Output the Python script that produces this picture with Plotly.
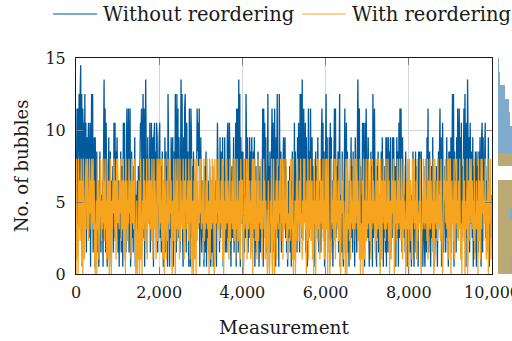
import plotly.graph_objects as go

BLUE_NAME = "Without reordering"
ORANGE_NAME = "With reordering"
BLUE_COLOR = "#005a9c"
ORANGE_COLOR = "#f6a31e"

# spacing of the plotted samples along the measurement axis
STEP = 12.5

# each code character stands for one bubble-count level
BLUE_LEVELS = [0.5, 1.5, 2.5, 3.5, 4.5, 5.5, 6.5, 7.5, 8.5, 9.5,
               10.5, 11.5, 12.5, 13.5, 14.5]          # codes 0-9, a-e
ORANGE_LEVELS = [0, 1, 2.3, 3.1, 3.5, 4.2, 5.1, 6.5, 8]  # codes 0-8

# one row per 1,000 measurements, 80 samples per row
BLUE_CODES = [
    "27b1b8c3ce 4c0b9a2c5a 1938a29a06 c4c1790953 8162038415 2608d3b1a5 0739148206 471a2a5839",
    "3160528174 0a4a2619b3 5b17b03826 1739052461 7248a9b36c 2b07d85194 63a19a7290 9a382a9159",
    "9a27158306 4918270c53 0629179048 3c71c6b294 16d4c2093b c71a3820b6 0b92748163 529b8a7b04",
    "9316250471 8052613740 2617043526 04a7361928 5390729164 19a26a8305 7249152a0b 6b1d4c0938",
    "3805162c74 9162938491 3829057142 860371524b 0b5a29164c 2708159b3a 18b4096c27 0c53812499",
    "8492713056 2716048351 a3825193a6 1c7c2d39b4 7a19305b28 4b63917052 0837295146 319b4a2806",
    "4c3917290a 1926039b5b 2736819c04 5182036b19 a381406259 2718540963 18d94b2715 3a8a50a4b9",
    "5293061847 0c29b61307 2815407839 4062719092 1938491629 3961705928 0a2b4b6193 7251836041",
    "3716205482 0538172608 4862813057 2046193b15 8305729140 1627304859 b2905a6173 4159260838",
    "2917c3c085 6193b28b49 1a2739b4c6 0a2d8491a5 3829057184 0837182940 9a19358a26 1739406253",
]

ORANGE_CODES = [
    "0814083726 8370861548 7386248573 8468371026 0837165842 6384728361 8317048206 3758627184",
    "8463758247 3816708372 6485731864 7384201603 1702815063 8274638157 4863728416 8375148268",
    "7384628175 0863172846 3857106284 6083728351 8274638417 5836472831 7480260718 4082736485",
    "8364718253 7483620817 6384720816 4857382647 3818062735 8476138264 7385248163 8462731847",
    "7402836481 5837461728 0863827315 8274638416 3857164103 7202648103 8406371846 3758264817",
    "8364827153 4728361804 1603728462 7483516284 8360728147 3825716084 6073828361 8547382618",
    "7384083602 1846372851 8463728160 3857164208 7086352817 4638273846 8372618042 1708316482",
    "6384728163 8475361824 7386208517 4863728364 8270631857 3801746283 7483628415 8364027381",
    "0837261847 8364718253 6481026384 7384628173 5837462801 8463728463 7285103867 4863728148",
    "8037462815 7483627384 1406382703 6380172846 8473628153 7360827418 3857264831 6380274816",
]

X_TICKS = [0, 2000, 4000, 6000, 8000, 10000]
Y_TICKS = [0, 5, 10, 15]


def decode(rows, levels):
    codes = "".join(rows).replace(" ", "")
    return [levels[int(c, 16)] for c in codes]


blue = decode(BLUE_CODES, BLUE_LEVELS)
orange = decode(ORANGE_CODES, ORANGE_LEVELS)
x_blue = [i * STEP for i in range(len(blue))]
x_orange = [i * STEP for i in range(len(orange))]

BIN = 0.9375
fig = go.Figure()
fig.add_trace(go.Scatter(x=x_blue, y=blue, mode="lines", name=BLUE_NAME,
                         line=dict(color=BLUE_COLOR, width=1.3)))
fig.add_trace(go.Scatter(x=x_orange, y=orange, mode="lines", name=ORANGE_NAME,
                         line=dict(color=ORANGE_COLOR, width=1.3)))
# marginal distributions, sideways, at the right edge
for vals, col in ((blue, BLUE_COLOR), (orange, ORANGE_COLOR)):
    fig.add_trace(go.Histogram(y=vals, orientation="h", xaxis="x2", yaxis="y2",
                               ybins=dict(start=0, end=15, size=BIN),
                               marker=dict(color=col, line=dict(width=0)),
                               opacity=0.5, showlegend=False))

L, PW, T, PH = 76, 436, 58, 216


def px(x):
    return (x - L) / PW


def py(y):
    return (T + PH - y) / PH


serif = "DejaVu Serif"
axis_common = dict(showline=True, linecolor="#1a1a1a", linewidth=1, mirror="ticks",
                   ticks="inside", ticklen=7, tickcolor="#808080", tickwidth=1,
                   showgrid=True, gridcolor="#d6d6d6", gridwidth=1, zeroline=False,
                   automargin=False,
                   tickfont=dict(family=serif, size=16, color="#1a1a1a"))

fig.update_layout(
    width=512, height=341,
    margin=dict(l=L, r=0, t=T, b=341 - T - PH, autoexpand=False),
    paper_bgcolor="white", plot_bgcolor="white",
    barmode="overlay", bargap=0, showlegend=False,
    font=dict(family=serif, color="#1a1a1a"),
    xaxis=dict(domain=[0, px(492)], range=[0, 10000], tickvals=X_TICKS,
               tickformat=",d", ticklabelstandoff=4, ticklabeloverflow="allow",
               **axis_common),
    yaxis=dict(range=[0, 15], tickvals=Y_TICKS, ticklabelstandoff=6,
               title=dict(text="No. of bubbles", font=dict(family=serif, size=18), standoff=12),
               **axis_common),
    xaxis2=dict(domain=[px(497.7), 1], range=[0, 48], anchor="y2", visible=False),
    yaxis2=dict(domain=[0, 1], range=[0, 15], anchor="x2", visible=False),
)

# x-axis title
fig.add_annotation(xref="paper", yref="paper", x=px(284), y=py(327), text="Measurement",
                   showarrow=False, xanchor="center", yanchor="middle",
                   font=dict(family=serif, size=18.5, color="#1a1a1a"))

# legend row drawn across the top margin
LEG_Y = py(14)
for x0, x1, tx, col, name in ((53, 97, 101, BLUE_COLOR, BLUE_NAME),
                             (302, 346, 349.5, ORANGE_COLOR, ORANGE_NAME)):
    fig.add_shape(type="line", xref="paper", yref="paper", x0=px(x0), x1=px(x1),
                  y0=LEG_Y, y1=LEG_Y, line=dict(color=col, width=1))
    fig.add_annotation(xref="paper", yref="paper", x=px(tx), y=LEG_Y, text=name,
                       showarrow=False, xanchor="left", yanchor="middle",
                       font=dict(family=serif, size=19.5, color="#1a1a1a"))

fig.write_html("out.html")
